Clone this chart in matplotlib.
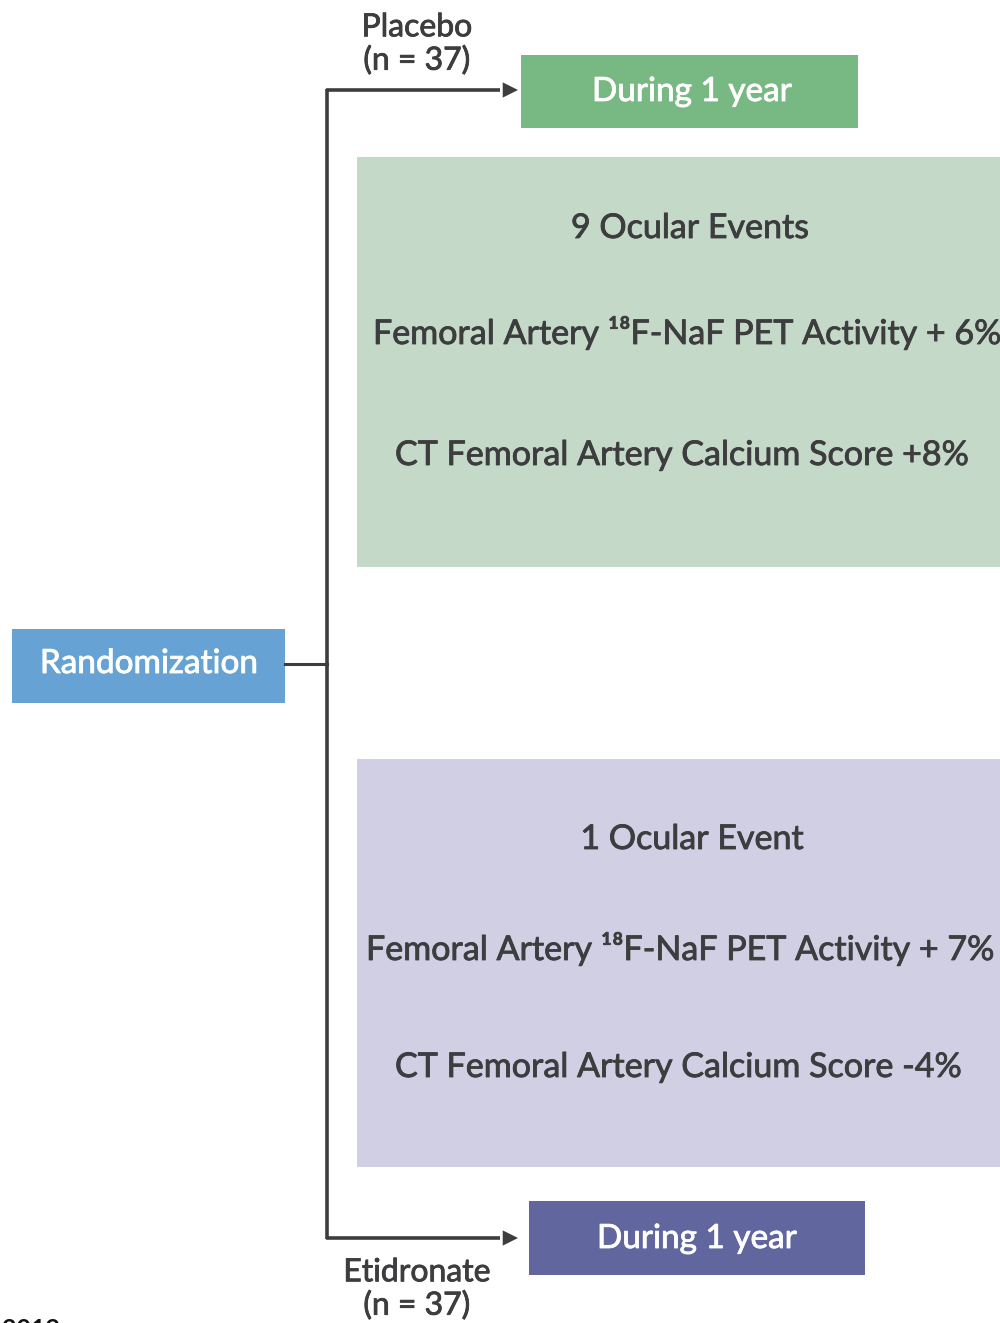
import matplotlib.pyplot as plt
import matplotlib.patheffects as pe
from matplotlib.patches import Rectangle

plt.rcParams['font.family'] = ['Lato', 'DejaVu Sans']

# texts of the diagram
arm_labels = ['Placebo\n(n = 37)', 'Etidronate\n(n = 37)']
period_labels = ['During 1 year', 'During 1 year']
start_label = 'Randomization'
placebo_results = ['9 Ocular Events',
                   'Femoral Artery ¹⁸F-NaF PET Activity + 6%',
                   'CT Femoral Artery Calcium Score +8%']
etidronate_results = ['1 Ocular Event',
                      'Femoral Artery ¹⁸F-NaF PET Activity + 7%',
                      'CT Femoral Artery Calcium Score -4%']
footer = '2019'

dark = '#3d3d3f'
fig = plt.figure(figsize=(10, 13.23), dpi=100)
ax = fig.add_axes([0, 0, 1, 1])
ax.set_xlim(0, 1000)
ax.set_ylim(1323, 0)
ax.axis('off')

def box(x0, y0, x1, y1, color):
    ax.add_patch(Rectangle((x0, y0), x1 - x0, y1 - y0, facecolor=color, edgecolor='none'))

def label(x, y, s, color=dark, size=24.5, ha='center', **kw):
    t = ax.text(x, y, s, color=color, fontsize=size, ha=ha, va='center', **kw)
    # a thin outline in the same colour makes the strokes a bit heavier
    t.set_path_effects([pe.withStroke(linewidth=0.6, foreground=color)])
    return t

# randomization box and connectors
box(12, 629, 285, 703, '#66a3d4')
label(149, 664, start_label, color='white', size=24)
ax.plot([285, 327], [664, 664], color=dark, lw=2.2)
ax.plot([327, 327], [89, 1239], color=dark, lw=2.6, solid_capstyle='butt')
for y in (90, 1238):
    ax.plot([326, 500], [y, y], color=dark, lw=2.6, solid_capstyle='butt')
    ax.annotate('', xy=(518, y), xytext=(495, y),
                arrowprops=dict(arrowstyle='-|>,head_length=1.1,head_width=0.55',
                                color=dark, lw=0, shrinkA=0, shrinkB=0))

# arm labels
label(417, 44, arm_labels[0], size=23, linespacing=1.12)
label(417, 1289, arm_labels[1], size=23, linespacing=1.12)

# period boxes
box(521, 55, 858, 128, '#78b983')
label(692, 92, period_labels[0], color='white', size=24)
box(529, 1201, 865, 1275, '#62669f')
label(697, 1239, period_labels[1], color='white', size=24)

# result panels
box(357, 157, 1000, 567, '#c5d9c8')
label(690, 228, placebo_results[0])
label(373, 333, placebo_results[1], ha='left')
label(395, 455, placebo_results[2], ha='left')

box(357, 759, 1000, 1167, '#d0cfe3')
label(692, 839, etidronate_results[0])
label(366, 949, etidronate_results[1], ha='left')
label(395, 1067, etidronate_results[2], ha='left')

ax.text(2, 1318, footer, color='#111111', fontsize=18, fontweight='bold', ha='left', va='top')

fig.savefig('out.png', dpi=100)
